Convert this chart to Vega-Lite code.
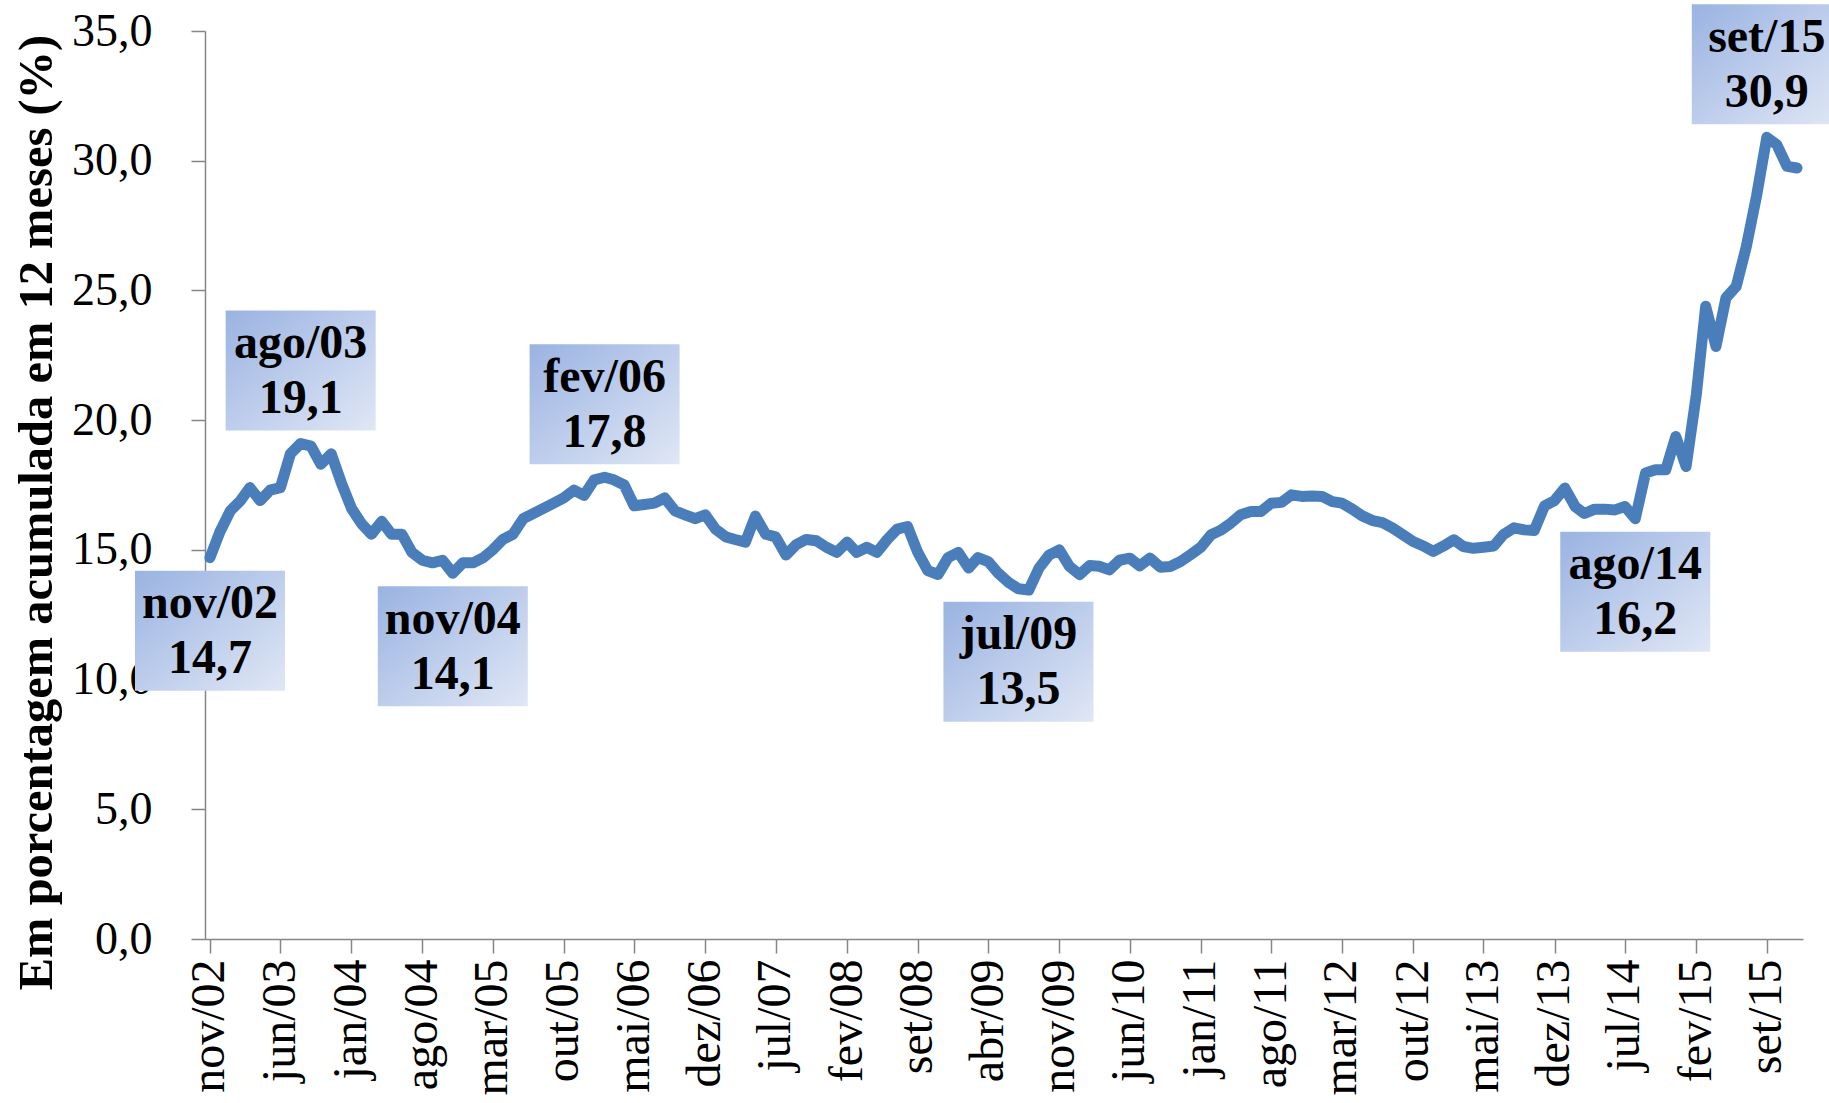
{
  "$schema": "https://vega.github.io/schema/vega-lite/v6.json",
  "autosize": {"type": "none"},
  "width": 1598,
  "height": 908,
  "padding": {"left": 205, "top": 31, "right": 26, "bottom": 164},
  "background": "white",
  "config": {
    "view": {"stroke": null},
    "locale": {
      "number": {"decimal": ",", "thousands": ".", "grouping": [3], "currency": ["R$", ""]},
      "time": {
        "dateTime": "%A, %e de %B de %Y. %X",
        "date": "%d/%m/%Y",
        "time": "%H:%M:%S",
        "periods": ["AM", "PM"],
        "days": ["Domingo", "Segunda", "Terça", "Quarta", "Quinta", "Sexta", "Sábado"],
        "shortDays": ["Dom", "Seg", "Ter", "Qua", "Qui", "Sex", "Sáb"],
        "months": ["Janeiro", "Fevereiro", "Março", "Abril", "Maio", "Junho", "Julho", "Agosto", "Setembro", "Outubro", "Novembro", "Dezembro"],
        "shortMonths": ["jan", "fev", "mar", "abr", "mai", "jun", "jul", "ago", "set", "out", "nov", "dez"]
      }
    }
  },
  "datasets": {
    "serie": [
      {"data": "2002-11-01", "valor": 14.7},
      {"data": "2002-12-01", "valor": 15.7},
      {"data": "2003-01-01", "valor": 16.5},
      {"data": "2003-02-01", "valor": 16.9},
      {"data": "2003-03-01", "valor": 17.4},
      {"data": "2003-04-01", "valor": 16.9},
      {"data": "2003-05-01", "valor": 17.3},
      {"data": "2003-06-01", "valor": 17.4},
      {"data": "2003-07-01", "valor": 18.7},
      {"data": "2003-08-01", "valor": 19.1},
      {"data": "2003-09-01", "valor": 19.0},
      {"data": "2003-10-01", "valor": 18.3},
      {"data": "2003-11-01", "valor": 18.7},
      {"data": "2003-12-01", "valor": 17.6},
      {"data": "2004-01-01", "valor": 16.6},
      {"data": "2004-02-01", "valor": 16.0},
      {"data": "2004-03-01", "valor": 15.6},
      {"data": "2004-04-01", "valor": 16.1},
      {"data": "2004-05-01", "valor": 15.6},
      {"data": "2004-06-01", "valor": 15.6},
      {"data": "2004-07-01", "valor": 14.9},
      {"data": "2004-08-01", "valor": 14.6},
      {"data": "2004-09-01", "valor": 14.5},
      {"data": "2004-10-01", "valor": 14.6},
      {"data": "2004-11-01", "valor": 14.1},
      {"data": "2004-12-01", "valor": 14.5},
      {"data": "2005-01-01", "valor": 14.5},
      {"data": "2005-02-01", "valor": 14.7},
      {"data": "2005-03-01", "valor": 15.0},
      {"data": "2005-04-01", "valor": 15.4},
      {"data": "2005-05-01", "valor": 15.6},
      {"data": "2005-06-01", "valor": 16.2},
      {"data": "2005-07-01", "valor": 16.4},
      {"data": "2005-08-01", "valor": 16.6},
      {"data": "2005-09-01", "valor": 16.8},
      {"data": "2005-10-01", "valor": 17.0},
      {"data": "2005-11-01", "valor": 17.3},
      {"data": "2005-12-01", "valor": 17.1},
      {"data": "2006-01-01", "valor": 17.7},
      {"data": "2006-02-01", "valor": 17.8},
      {"data": "2006-03-01", "valor": 17.7},
      {"data": "2006-04-01", "valor": 17.5},
      {"data": "2006-05-01", "valor": 16.7},
      {"data": "2006-06-01", "valor": 16.75},
      {"data": "2006-07-01", "valor": 16.8},
      {"data": "2006-08-01", "valor": 17.0},
      {"data": "2006-09-01", "valor": 16.5},
      {"data": "2006-10-01", "valor": 16.35},
      {"data": "2006-11-01", "valor": 16.2},
      {"data": "2006-12-01", "valor": 16.35},
      {"data": "2007-01-01", "valor": 15.8},
      {"data": "2007-02-01", "valor": 15.5},
      {"data": "2007-03-01", "valor": 15.4},
      {"data": "2007-04-01", "valor": 15.3},
      {"data": "2007-05-01", "valor": 16.3},
      {"data": "2007-06-01", "valor": 15.6},
      {"data": "2007-07-01", "valor": 15.5},
      {"data": "2007-08-01", "valor": 14.8},
      {"data": "2007-09-01", "valor": 15.2},
      {"data": "2007-10-01", "valor": 15.4},
      {"data": "2007-11-01", "valor": 15.35},
      {"data": "2007-12-01", "valor": 15.1},
      {"data": "2008-01-01", "valor": 14.9},
      {"data": "2008-02-01", "valor": 15.3},
      {"data": "2008-03-01", "valor": 14.9},
      {"data": "2008-04-01", "valor": 15.1},
      {"data": "2008-05-01", "valor": 14.9},
      {"data": "2008-06-01", "valor": 15.4},
      {"data": "2008-07-01", "valor": 15.8},
      {"data": "2008-08-01", "valor": 15.9},
      {"data": "2008-09-01", "valor": 14.9},
      {"data": "2008-10-01", "valor": 14.2},
      {"data": "2008-11-01", "valor": 14.05},
      {"data": "2008-12-01", "valor": 14.7},
      {"data": "2009-01-01", "valor": 14.9},
      {"data": "2009-02-01", "valor": 14.3},
      {"data": "2009-03-01", "valor": 14.7},
      {"data": "2009-04-01", "valor": 14.55},
      {"data": "2009-05-01", "valor": 14.1},
      {"data": "2009-06-01", "valor": 13.75},
      {"data": "2009-07-01", "valor": 13.5},
      {"data": "2009-08-01", "valor": 13.45},
      {"data": "2009-09-01", "valor": 14.3},
      {"data": "2009-10-01", "valor": 14.8},
      {"data": "2009-11-01", "valor": 15.0},
      {"data": "2009-12-01", "valor": 14.37},
      {"data": "2010-01-01", "valor": 14.05},
      {"data": "2010-02-01", "valor": 14.4},
      {"data": "2010-03-01", "valor": 14.37},
      {"data": "2010-04-01", "valor": 14.23},
      {"data": "2010-05-01", "valor": 14.6},
      {"data": "2010-06-01", "valor": 14.68},
      {"data": "2010-07-01", "valor": 14.38},
      {"data": "2010-08-01", "valor": 14.68},
      {"data": "2010-09-01", "valor": 14.33},
      {"data": "2010-10-01", "valor": 14.36},
      {"data": "2010-11-01", "valor": 14.55},
      {"data": "2010-12-01", "valor": 14.81},
      {"data": "2011-01-01", "valor": 15.1},
      {"data": "2011-02-01", "valor": 15.58},
      {"data": "2011-03-01", "valor": 15.75},
      {"data": "2011-04-01", "valor": 16.03},
      {"data": "2011-05-01", "valor": 16.35},
      {"data": "2011-06-01", "valor": 16.48},
      {"data": "2011-07-01", "valor": 16.48},
      {"data": "2011-08-01", "valor": 16.8},
      {"data": "2011-09-01", "valor": 16.83},
      {"data": "2011-10-01", "valor": 17.12},
      {"data": "2011-11-01", "valor": 17.06},
      {"data": "2011-12-01", "valor": 17.08},
      {"data": "2012-01-01", "valor": 17.06},
      {"data": "2012-02-01", "valor": 16.86},
      {"data": "2012-03-01", "valor": 16.8},
      {"data": "2012-04-01", "valor": 16.57},
      {"data": "2012-05-01", "valor": 16.31},
      {"data": "2012-06-01", "valor": 16.13},
      {"data": "2012-07-01", "valor": 16.05},
      {"data": "2012-08-01", "valor": 15.84},
      {"data": "2012-09-01", "valor": 15.58},
      {"data": "2012-10-01", "valor": 15.32},
      {"data": "2012-11-01", "valor": 15.15},
      {"data": "2012-12-01", "valor": 14.94},
      {"data": "2013-01-01", "valor": 15.15},
      {"data": "2013-02-01", "valor": 15.39},
      {"data": "2013-03-01", "valor": 15.13},
      {"data": "2013-04-01", "valor": 15.06},
      {"data": "2013-05-01", "valor": 15.1},
      {"data": "2013-06-01", "valor": 15.15},
      {"data": "2013-07-01", "valor": 15.6},
      {"data": "2013-08-01", "valor": 15.85},
      {"data": "2013-09-01", "valor": 15.77},
      {"data": "2013-10-01", "valor": 15.75},
      {"data": "2013-11-01", "valor": 16.7},
      {"data": "2013-12-01", "valor": 16.9},
      {"data": "2014-01-01", "valor": 17.38},
      {"data": "2014-02-01", "valor": 16.67},
      {"data": "2014-03-01", "valor": 16.4},
      {"data": "2014-04-01", "valor": 16.57},
      {"data": "2014-05-01", "valor": 16.57},
      {"data": "2014-06-01", "valor": 16.54},
      {"data": "2014-07-01", "valor": 16.67},
      {"data": "2014-08-01", "valor": 16.2},
      {"data": "2014-09-01", "valor": 17.96},
      {"data": "2014-10-01", "valor": 18.09},
      {"data": "2014-11-01", "valor": 18.09},
      {"data": "2014-12-01", "valor": 19.37},
      {"data": "2015-01-01", "valor": 18.21},
      {"data": "2015-02-01", "valor": 21.0},
      {"data": "2015-03-01", "valor": 24.39},
      {"data": "2015-04-01", "valor": 22.84},
      {"data": "2015-05-01", "valor": 24.71},
      {"data": "2015-06-01", "valor": 25.16},
      {"data": "2015-07-01", "valor": 26.67},
      {"data": "2015-08-01", "valor": 28.63},
      {"data": "2015-09-01", "valor": 30.9},
      {"data": "2015-10-01", "valor": 30.62},
      {"data": "2015-11-01", "valor": 29.78},
      {"data": "2015-12-01", "valor": 29.72}
    ],
    "rotulos": [
      {"data": "2002-11-01", "valor": 14.7, "mes": "nov/02", "posicao": "abaixo"},
      {"data": "2003-08-01", "valor": 19.1, "mes": "ago/03", "posicao": "acima"},
      {"data": "2004-11-01", "valor": 14.1, "mes": "nov/04", "posicao": "abaixo"},
      {"data": "2006-02-01", "valor": 17.8, "mes": "fev/06", "posicao": "acima"},
      {"data": "2009-07-01", "valor": 13.5, "mes": "jul/09", "posicao": "abaixo"},
      {"data": "2014-08-01", "valor": 16.2, "mes": "ago/14", "posicao": "abaixo"},
      {"data": "2015-09-01", "valor": 30.9, "mes": "set/15", "posicao": "acima"}
    ]
  },
  "encoding": {
    "x": {
      "field": "data",
      "type": "temporal",
      "scale": {
        "type": "utc",
        "domain": [
          {"year": 2002, "month": 10, "date": 17, "utc": true},
          {"year": 2015, "month": 12, "date": 19, "utc": true}
        ]
      },
      "axis": {
        "title": null,
        "grid": false,
        "format": "%b/%y",
        "values": [
          {"year": 2002, "month": 11, "date": 1, "utc": true},
          {"year": 2003, "month": 6, "date": 1, "utc": true},
          {"year": 2004, "month": 1, "date": 1, "utc": true},
          {"year": 2004, "month": 8, "date": 1, "utc": true},
          {"year": 2005, "month": 3, "date": 1, "utc": true},
          {"year": 2005, "month": 10, "date": 1, "utc": true},
          {"year": 2006, "month": 5, "date": 1, "utc": true},
          {"year": 2006, "month": 12, "date": 1, "utc": true},
          {"year": 2007, "month": 7, "date": 1, "utc": true},
          {"year": 2008, "month": 2, "date": 1, "utc": true},
          {"year": 2008, "month": 9, "date": 1, "utc": true},
          {"year": 2009, "month": 4, "date": 1, "utc": true},
          {"year": 2009, "month": 11, "date": 1, "utc": true},
          {"year": 2010, "month": 6, "date": 1, "utc": true},
          {"year": 2011, "month": 1, "date": 1, "utc": true},
          {"year": 2011, "month": 8, "date": 1, "utc": true},
          {"year": 2012, "month": 3, "date": 1, "utc": true},
          {"year": 2012, "month": 10, "date": 1, "utc": true},
          {"year": 2013, "month": 5, "date": 1, "utc": true},
          {"year": 2013, "month": 12, "date": 1, "utc": true},
          {"year": 2014, "month": 7, "date": 1, "utc": true},
          {"year": 2015, "month": 2, "date": 1, "utc": true},
          {"year": 2015, "month": 9, "date": 1, "utc": true}
        ],
        "labelAngle": -90,
        "labelFont": "Liberation Serif",
        "labelFontSize": 48,
        "labelColor": "black",
        "labelPadding": 6,
        "labelOverlap": false,
        "labelFlush": false,
        "labelBound": false,
        "tickSize": 14,
        "tickColor": "#868686",
        "tickWidth": 1.5,
        "domainColor": "#868686",
        "domainWidth": 1.5
      }
    },
    "y": {
      "field": "valor",
      "type": "quantitative",
      "scale": {"domain": [0, 35], "nice": false, "zero": false},
      "axis": {
        "title": "Em porcentagem acumulada em 12 meses (%)",
        "titleFont": "Liberation Serif",
        "titleFontSize": 48.5,
        "titleFontWeight": "bold",
        "titleColor": "black",
        "titleAngle": 270,
        "titleAlign": "center",
        "titleBaseline": "middle",
        "titleX": -169,
        "titleY": 481,
        "grid": false,
        "values": [0, 5, 10, 15, 20, 25, 30, 35],
        "format": ".1f",
        "labelFont": "Liberation Serif",
        "labelFontSize": 46,
        "labelColor": "black",
        "labelPadding": 39,
        "labelFlush": false,
        "labelOverlap": false,
        "tickSize": 14,
        "tickColor": "#868686",
        "tickWidth": 1.5,
        "domainColor": "#868686",
        "domainWidth": 1.5
      }
    }
  },
  "layer": [
    {
      "data": {"name": "serie"},
      "mark": {"type": "line", "color": "#4a7ebb", "strokeWidth": 11, "strokeJoin": "round", "strokeCap": "round"}
    },
    {
      "data": {"name": "rotulos"},
      "transform": [{"filter": "datum.posicao == 'acima'"}],
      "mark": {
        "type": "point",
        "shape": "M-1,-0.8L1,-0.8L1,0.8L-1,0.8Z",
        "size": 22500,
        "filled": true,
        "opacity": 1,
        "strokeWidth": 0,
        "fill": {"gradient": "linear", "x1": 0, "y1": 0, "x2": 1, "y2": 1, "stops": [{"offset": 0, "color": "#9ab3e2"}, {"offset": 1, "color": "#e0e7f5"}]},
        "yOffset": -73
      }
    },
    {
      "data": {"name": "rotulos"},
      "transform": [{"filter": "datum.posicao == 'abaixo'"}],
      "mark": {
        "type": "point",
        "shape": "M-1,-0.8L1,-0.8L1,0.8L-1,0.8Z",
        "size": 22500,
        "filled": true,
        "opacity": 1,
        "strokeWidth": 0,
        "fill": {"gradient": "linear", "x1": 0, "y1": 0, "x2": 1, "y2": 1, "stops": [{"offset": 0, "color": "#9ab3e2"}, {"offset": 1, "color": "#e0e7f5"}]},
        "yOffset": 73
      }
    },
    {
      "data": {"name": "rotulos"},
      "transform": [{"filter": "datum.posicao == 'acima'"}],
      "mark": {"type": "text", "font": "Liberation Serif", "fontSize": 48, "fontWeight": "bold", "color": "black", "align": "center", "baseline": "alphabetic", "yOffset": -85.5},
      "encoding": {"text": {"field": "mes", "type": "nominal"}}
    },
    {
      "data": {"name": "rotulos"},
      "transform": [{"filter": "datum.posicao == 'acima'"}],
      "mark": {"type": "text", "font": "Liberation Serif", "fontSize": 48, "fontWeight": "bold", "color": "black", "align": "center", "baseline": "alphabetic", "yOffset": -30.5},
      "encoding": {"text": {"field": "valor", "type": "quantitative", "format": ".1f"}}
    },
    {
      "data": {"name": "rotulos"},
      "transform": [{"filter": "datum.posicao == 'abaixo'"}],
      "mark": {"type": "text", "font": "Liberation Serif", "fontSize": 48, "fontWeight": "bold", "color": "black", "align": "center", "baseline": "alphabetic", "yOffset": 60.5},
      "encoding": {"text": {"field": "mes", "type": "nominal"}}
    },
    {
      "data": {"name": "rotulos"},
      "transform": [{"filter": "datum.posicao == 'abaixo'"}],
      "mark": {"type": "text", "font": "Liberation Serif", "fontSize": 48, "fontWeight": "bold", "color": "black", "align": "center", "baseline": "alphabetic", "yOffset": 115.5},
      "encoding": {"text": {"field": "valor", "type": "quantitative", "format": ".1f"}}
    }
  ]
}
